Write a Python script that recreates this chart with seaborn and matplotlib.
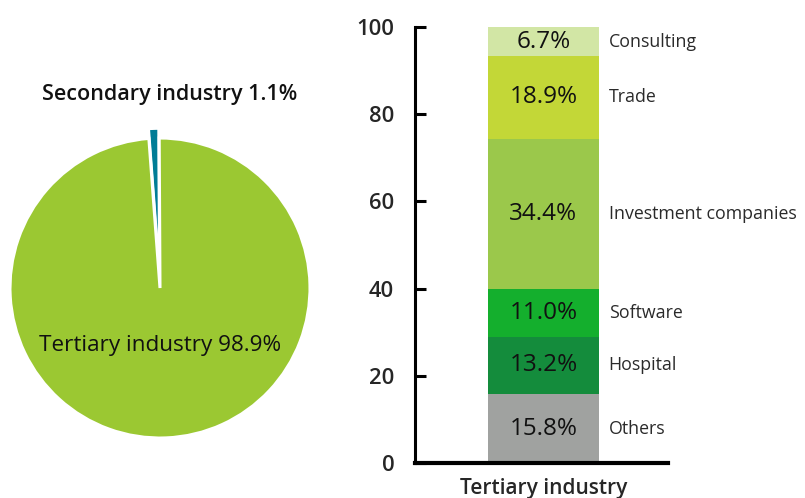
import matplotlib
matplotlib.use('Agg')
import matplotlib.pyplot as plt
import seaborn as sns
import pandas as pd
import numpy as np

# --- data ---
pie_labels = ['Secondary industry', 'Tertiary industry']
pie_shares = [1.1, 98.9]
pie_colors = ['#007C96', '#9BC832']

sectors = ['Others', 'Hospital', 'Software', 'Investment companies', 'Trade', 'Consulting']
sector_shares = [15.8, 13.2, 11.0, 34.4, 18.9, 6.7]
sector_colors = ['#A0A2A0', '#148C3C', '#14AF2D', '#9BC84B', '#C3D737', '#D2E6A5']
bar_category = 'Tertiary industry'

sns.set_theme(style='white')
plt.rcParams['font.family'] = ['Open Sans', 'DejaVu Sans']

fig = plt.figure(figsize=(8.05, 4.98), dpi=100)

# Pie chart (left)
ax_pie = fig.add_axes([-0.0435, 0.0301, 0.4845, 0.7831])
ax_pie.pie(
    pie_shares,
    colors=pie_colors,
    startangle=90.3,
    counterclock=True,
    explode=[0.065, 0],
    wedgeprops=dict(edgecolor='white', linewidth=2.2),
)
ax_pie.set_xlim(-1.3, 1.3)
ax_pie.set_ylim(-1.3, 1.3)
ax_pie.set_aspect('equal')
ax_pie.axis('off')
ax_pie.text(0.067, 1.287, f'{pie_labels[0]} {pie_shares[0]:.1f}%', ha='center', va='center',
            fontsize=15.5, fontweight='semibold', color='#111111')
ax_pie.text(0.0, -0.38, f'{pie_labels[1]} {pie_shares[1]:.1f}%', ha='center', va='center',
            fontsize=16.2, fontweight='medium', color='#111111')

# Stacked bar (right)
ax = fig.add_axes([0.5155, 0.0703, 0.3143, 0.8755])
df = pd.DataFrame({'sector': sectors, 'share': sector_shares, 'color': sector_colors})
df['top'] = df['share'].cumsum()
df['mid'] = df['top'] - df['share'] / 2

for _, row in df.iloc[::-1].iterrows():
    sns.barplot(x=[bar_category], y=[row['top']], color=row['color'], saturation=1,
                width=0.8, linewidth=0, ax=ax)

for _, row in df.iterrows():
    ax.text(0, row['mid'], f"{row['share']:.1f}%", ha='center', va='center',
            fontsize=17.5, fontweight='medium', color='#111111')
    ax.text(0.47, row['mid'], row['sector'], ha='left', va='center',
            fontsize=12.8, color='#2a2a2a')

ax.set_xlim(-0.926, 0.897)
ax.set_ylim(0, 100)
ax.set_yticks([0, 20, 40, 60, 80, 100])
ax.tick_params(axis='y', direction='in', length=8, width=2.2, pad=15, labelsize=15.8,
               color='black', left=True)
ax.tick_params(axis='x', length=0, pad=11, labelsize=15)
for lbl in ax.get_yticklabels():
    lbl.set_fontweight('semibold')
for lbl in ax.get_xticklabels():
    lbl.set_fontweight('semibold')
ax.set_xlabel('')
ax.set_ylabel('')
for side in ['top', 'right']:
    ax.spines[side].set_visible(False)
ax.spines['left'].set_linewidth(2.2)
ax.spines['bottom'].set_linewidth(3)
ax.spines['left'].set_color('black')
ax.spines['bottom'].set_color('black')
ax.patch.set_alpha(0)

fig.savefig('out.png', dpi=100)
